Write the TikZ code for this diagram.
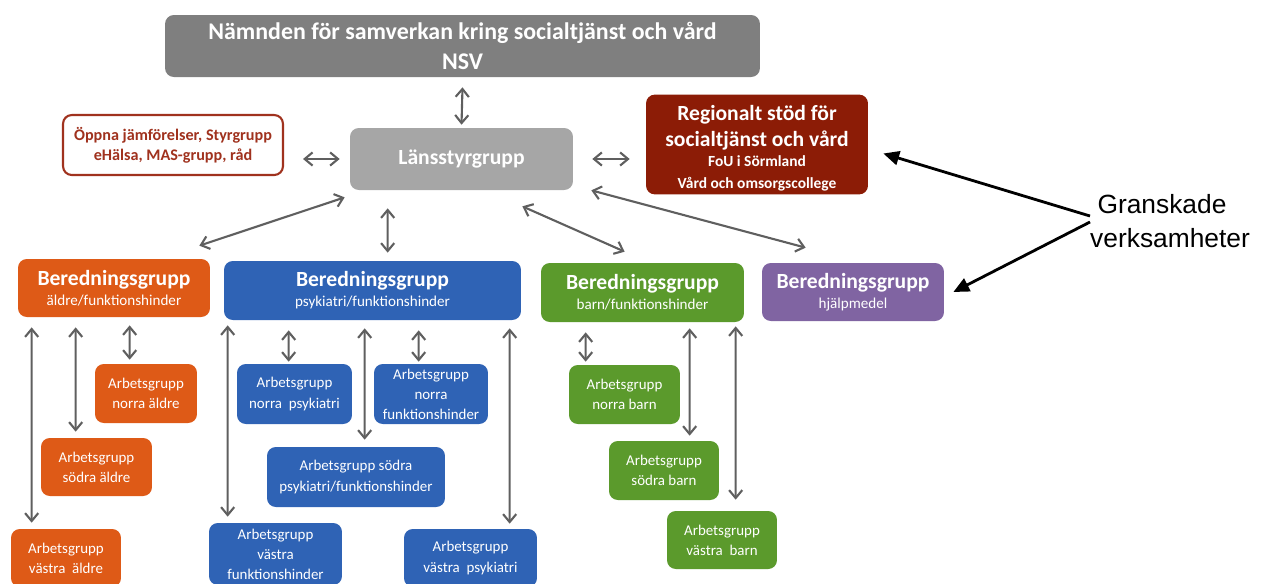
\documentclass[tikz,border=0pt]{standalone}
\usepackage{fontspec}
\setmainfont{Carlito}
\newfontfamily\arialfont{Liberation Sans}
\usetikzlibrary{arrows.meta,calc}

\definecolor{nsvgray}{HTML}{7F7F7F}
\definecolor{lansgray}{HTML}{A6A6A6}
\definecolor{linkgray}{HTML}{5F5F5F}
\definecolor{oppnared}{HTML}{A0321E}
\definecolor{regred}{HTML}{8C1C06}
\definecolor{aldreorange}{HTML}{DE5A17}
\definecolor{psykblue}{HTML}{2F63B5}
\definecolor{barngreen}{HTML}{5B9A2C}
\definecolor{hjalppurple}{HTML}{8064A2}

\begin{document}
\begin{tikzpicture}[
  x=0.02cm, y=-0.02cm,
  >={Straight Barb[length=4.5pt,width=7.5pt]},
  orgbox/.style={rounded corners=5pt, inner sep=2pt, align=center, text=white},
  bergrp/.style={orgbox, fill=#1, font=\fontsize{12.3}{11.4}\selectfont\bfseries},
  arbgrp/.style={orgbox, fill=#1, font=\fontsize{8.5}{11.4}\selectfont},
  link/.style={<->, draw=linkgray, line width=1.2pt},
  callout/.style={->, >={Triangle[length=9pt,width=8pt]}, line width=1.6pt}
]
  \useasboundingbox (0,0) rectangle (1261,583);

  % top level
  \node[orgbox, fill=nsvgray, minimum width=11.9cm, minimum height=1.24cm,
        font=\fontsize{13.6}{17}\selectfont\bfseries] (nsv) at (462.5,46)
        {Nämnden för samverkan kring socialtjänst och vård\\NSV};
  \node[orgbox, fill=lansgray, minimum width=4.46cm, minimum height=1.24cm,
        font=\fontsize{12.3}{14}\selectfont\bfseries] (lans) at (461.5,159) {Länsstyrgrupp};
  \node[orgbox, draw=oppnared, line width=1.2pt, fill=white, text=oppnared,
        minimum width=4.4cm, minimum height=1.2cm,
        font=\fontsize{9.2}{11.4}\selectfont\bfseries] (oppna) at (173,145)
        {Öppna jämförelser, Styrgrupp\\eHälsa, MAS-grupp, råd};
  \node[orgbox, fill=regred, minimum width=4.44cm, minimum height=1.94cm,
        font=\fontsize{12.3}{14.8}\selectfont\bfseries] (regional) at (757,144.5)
        {\rule{0pt}{12.9pt}Regionalt stöd för\\socialtjänst och vård\\[-3.5pt]
         {\fontsize{8.8}{12.5}\selectfont FoU i Sörmland}\\[-2.5pt]
         {\fontsize{8.8}{12.5}\selectfont Vård och omsorgscollege}};

  % beredningsgrupper
  \node[bergrp=aldreorange, minimum width=3.84cm, minimum height=1.16cm] (bera) at (114,288)
        {Beredningsgrupp\\{\fontsize{8.6}{11.4}\selectfont\mdseries äldre/funktionshinder}};
  \node[bergrp=psykblue, minimum width=5.94cm, minimum height=1.18cm] (berp) at (372.5,290.5)
        {Beredningsgrupp\\{\fontsize{8.6}{11.4}\selectfont\mdseries psykiatri/funktionshinder}};
  \node[bergrp=barngreen, minimum width=4.06cm, minimum height=1.18cm] (berb) at (642.5,292.5)
        {Beredningsgrupp\\{\fontsize{8.6}{11.4}\selectfont\mdseries barn/funktionshinder}};
  \node[bergrp=hjalppurple, minimum width=3.64cm, minimum height=1.16cm] (berh) at (853,292)
        {Beredningsgrupp\\{\fontsize{8.6}{11.4}\selectfont\mdseries hjälpmedel}};

  % arbetsgrupper
  \node[arbgrp=aldreorange, minimum width=2.04cm, minimum height=1.18cm] (arbna) at (146,393.5)
        {Arbetsgrupp\\norra äldre};
  \node[arbgrp=aldreorange, minimum width=2.22cm, minimum height=1.16cm] (arbsa) at (96.5,467)
        {Arbetsgrupp\\södra äldre};
  \node[arbgrp=aldreorange, minimum width=2.2cm, minimum height=1.16cm] (arbva) at (66,558)
        {Arbetsgrupp\\västra\ \ äldre};
  \node[arbgrp=psykblue, minimum width=2.3cm, minimum height=1.2cm] (arbnp) at (294.5,394)
        {Arbetsgrupp\\norra\ \ psykiatri};
  \node[arbgrp=psykblue, minimum width=2.28cm, minimum height=1.2cm] (arbnf) at (431,394)
        {Arbetsgrupp\\norra\\funktionshinder};
  \node[arbgrp=psykblue, minimum width=3.56cm, minimum height=1.2cm] (arbsp) at (356,477)
        {Arbetsgrupp södra\\psykiatri/funktionshinder};
  \node[arbgrp=psykblue, minimum width=2.66cm, minimum height=1.24cm] (arbvf) at (275.5,554)
        {Arbetsgrupp\\västra\\funktionshinder};
  \node[arbgrp=psykblue, minimum width=2.66cm, minimum height=1.16cm] (arbvp) at (470.5,558)
        {Arbetsgrupp\\västra\ \ psykiatri};
  \node[arbgrp=barngreen, minimum width=2.22cm, minimum height=1.18cm] (arbnb) at (624.5,394.5)
        {Arbetsgrupp\\norra barn};
  \node[arbgrp=barngreen, minimum width=2.2cm, minimum height=1.18cm] (arbsb) at (664,470.5)
        {Arbetsgrupp\\södra barn};
  \node[arbgrp=barngreen, minimum width=2.2cm, minimum height=1.16cm] (arbvb) at (722,540)
        {Arbetsgrupp\\västra\ \ barn};

  % callout
  \node[anchor=west, align=left, font=\arialfont\fontsize{15}{19.5}\selectfont] (gransk) at (1084,221)
        {\ Granskade\\verksamheter};

  % links from the top
  \draw[link] ($(nsv.south)+(0,10)$) -- ($(lans.north)+(0,-3)$);
  \draw[link] ($(lans.west)+(-10,0)$) -- ($(lans.west -| oppna.east)+(19,0)$);
  \draw[link] ($(lans.east)+(19,0)$) -- ($(lans.east -| regional.west)+(-16,0)$);
  \draw[link] ($(lans.south west)+(-5,7)$) -- ($(bera.north east)+(-11,-13)$);
  \draw[link] ($(lans.south west)+(38,18)$) -- ($(berp.north west)+(164,-8)$);
  \draw[link] ($(lans.south east)+(-51,16)$) -- ($(berb.north west)+(84,-11)$);
  \draw[link] ($(lans.south east)+(18,0)$) -- ($(berh.north west)+(44,-15)$);

  % links to arbetsgrupper
  \draw[link] ($(bera.south west)+(112,8)$) -- ($(arbna.north west)+(35,-4)$);
  \draw[link] ($(bera.south west)+(58,10)$) -- ($(arbsa.north west)+(35,-6)$);
  \draw[link] ($(bera.south west)+(14,10)$) -- ($(arbva.north west)+(21,-6)$);
  \draw[link] ($(berp.south west)+(65,10)$) -- ($(arbnp.north west)+(52,-2)$);
  \draw[link] ($(berp.south west)+(195,10)$) -- ($(arbnf.north west)+(45,-2)$);
  \draw[link] ($(berp.south west)+(141,8)$) -- ($(arbsp.north west)+(98,-7)$);
  \draw[link] ($(berp.south west)+(4,5)$) -- ($(arbvf.north west)+(19,-6)$);
  \draw[link] ($(berp.south west)+(286,8)$) -- ($(arbvp.north west)+(106,-5)$);
  \draw[link] ($(berb.south west)+(45,10)$) -- ($(arbnb.north west)+(17,-3)$);
  \draw[link] ($(berb.south west)+(149,6)$) -- ($(arbsb.north west)+(81,-5)$);
  \draw[link] ($(berb.south west)+(195,4)$) -- ($(arbvb.north west)+(69,-11)$);

  % granskade verksamheter
  \draw[callout] ($(gransk.west)+(6,-5)$) -- ($(regional.east)+(15,9)$);
  \draw[callout] ($(gransk.west)+(6,1)$) -- ($(berh.east)+(9,0)$);
\end{tikzpicture}
\end{document}
